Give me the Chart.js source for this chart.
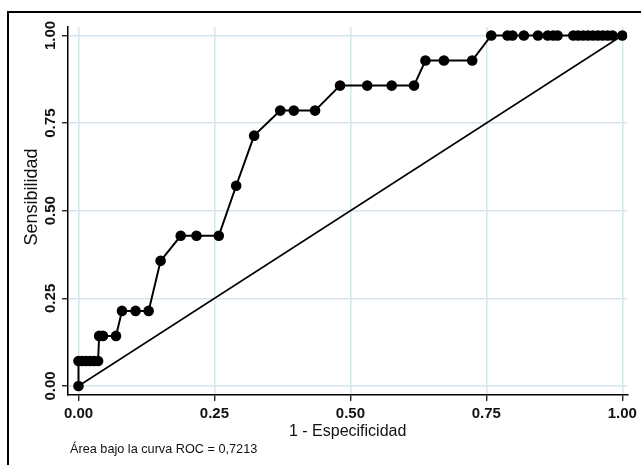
<!DOCTYPE html>
<html>
<head>
<meta charset="utf-8">
<script src="https://cdn.jsdelivr.net/npm/chart.js@4/dist/chart.umd.min.js"></script>
<style>
    body { margin: 0; background: #fff; }
    #wrap { position: relative; width: 641px; height: 465px; overflow: hidden; }
    #marco { position: absolute; left: 7px; top: 11px; width: 700px; height: 500px;
             border-left: 2.5px solid #000; border-top: 2.5px solid #000; }
    #nota { position: absolute; left: 70px; top: 442px; font: 12.7px "Liberation Sans", Arial, sans-serif;
            line-height: 15px; color: #111; white-space: nowrap; }
    canvas { position: absolute; left: 0; top: 0; }
</style>
</head>
<body>
<div id="wrap">
    <div id="marco"></div>
    <canvas id="chartjs-roc" width="641" height="465"></canvas>
    <div id="nota">Área bajo la curva ROC = 0,7213</div>
</div>
<script>
// 1 - especificidad / sensibilidad (14 positivos -> pasos de 1/14)
var especificidad1 = [0, 0, 0.007, 0.014, 0.021, 0.028, 0.036, 0.038, 0.045, 0.069,
    0.080, 0.105, 0.129, 0.151, 0.188, 0.217, 0.258, 0.290, 0.323, 0.371, 0.396, 0.435,
    0.481, 0.531, 0.576, 0.617, 0.638, 0.672, 0.724,
    0.759, 0.789, 0.798, 0.819, 0.845, 0.863, 0.873, 0.881,
    0.910, 0.919, 0.928, 0.937, 0.946, 0.955, 0.964, 0.973, 0.982, 1.0];
var sensibilidad = [0, 0.0714, 0.0714, 0.0714, 0.0714, 0.0714, 0.0714, 0.1429, 0.1429, 0.1429,
    0.2143, 0.2143, 0.2143, 0.3571, 0.4286, 0.4286, 0.4286, 0.5714, 0.7143, 0.7857, 0.7857, 0.7857,
    0.8571, 0.8571, 0.8571, 0.8571, 0.9286, 0.9286, 0.9286,
    1, 1, 1, 1, 1, 1, 1, 1,
    1, 1, 1, 1, 1, 1, 1, 1, 1, 1];
var diagonalX = [0, 1];
var diagonalY = [0, 1];
var ticksEje = [0, 0.25, 0.5, 0.75, 1];

var FUENTE = '"Liberation Sans", Arial, sans-serif';

function puntos(xs, ys) {
    var res = [];
    for (var i = 0; i < xs.length; i++) {
        res.push({x: xs[i], y: ys[i]});
    }
    return res;
}

function fijarTicks(axis) {
    axis.ticks = ticksEje.map(function (v) { return {value: v}; });
}

// titulo del eje Y: en el original esta algo por encima del centro
var tituloY = {
    id: 'tituloY',
    afterDraw: function (chart) {
        var c = chart.ctx;
        c.save();
        c.translate(32, 197);
        c.rotate(-Math.PI / 2);
        c.font = '18px ' + FUENTE;
        c.fillStyle = '#111';
        c.textAlign = 'center';
        c.textBaseline = 'middle';
        c.fillText('Sensibilidad', 0, 0);
        c.restore();
    }
};

var grid = {
    color: '#d5e6ed',
    lineWidth: 1.5,
    drawTicks: true,
    tickLength: 6,
    tickColor: '#000',
    tickWidth: 1.2
};

var ctx = document.getElementById("chartjs-roc").getContext('2d');
new Chart(ctx, {
    type: 'scatter',
    data: {
        datasets: [{
            label: 'ROC',
            data: puntos(especificidad1, sensibilidad),
            showLine: true,
            borderColor: '#000',
            borderWidth: 2,
            backgroundColor: '#000',
            pointRadius: 5.3,
            pointBorderWidth: 0,
            pointBackgroundColor: '#000'
        }, {
            label: 'Referencia',
            data: puntos(diagonalX, diagonalY),
            showLine: true,
            borderColor: '#000',
            borderWidth: 1.5,
            pointRadius: 0
        }]
    },
    plugins: [tituloY],
    options: {
        responsive: false,
        animation: false,
        devicePixelRatio: 1,
        layout: {padding: {left: 0, top: 27, right: 13, bottom: 0}},
        plugins: {
            legend: {display: false},
            tooltip: {enabled: false}
        },
        scales: {
            x: {
                type: 'linear',
                min: -0.01928,
                max: 1.00918,
                afterBuildTicks: fijarTicks,
                afterFit: function (s) { s.height = 70; },
                grid: grid,
                border: {display: true, color: '#000', width: 1.5},
                ticks: {
                    color: '#111',
                    padding: 4,
                    font: {family: FUENTE, size: 15, weight: 'bold'},
                    callback: function (v) { return v.toFixed(2); }
                },
                title: {
                    display: true,
                    text: '1 - Especificidad',
                    color: '#111',
                    font: {family: FUENTE, size: 16},
                    padding: {top: 0, bottom: 23.4}
                }
            },
            y: {
                type: 'linear',
                min: -0.02568,
                max: 1.02425,
                afterBuildTicks: fijarTicks,
                afterFit: function (s) { s.width = 68; },
                grid: grid,
                border: {display: true, color: '#000', width: 1.5},
                ticks: {
                    color: '#111',
                    padding: -3,
                    minRotation: 90,
                    maxRotation: 90,
                    crossAlign: 'center',
                    font: {family: FUENTE, size: 15, weight: 'bold'},
                    callback: function (v) { return v.toFixed(2); }
                },
                title: {display: false}
            }
        }
    }
});
</script>
</body>
</html>
